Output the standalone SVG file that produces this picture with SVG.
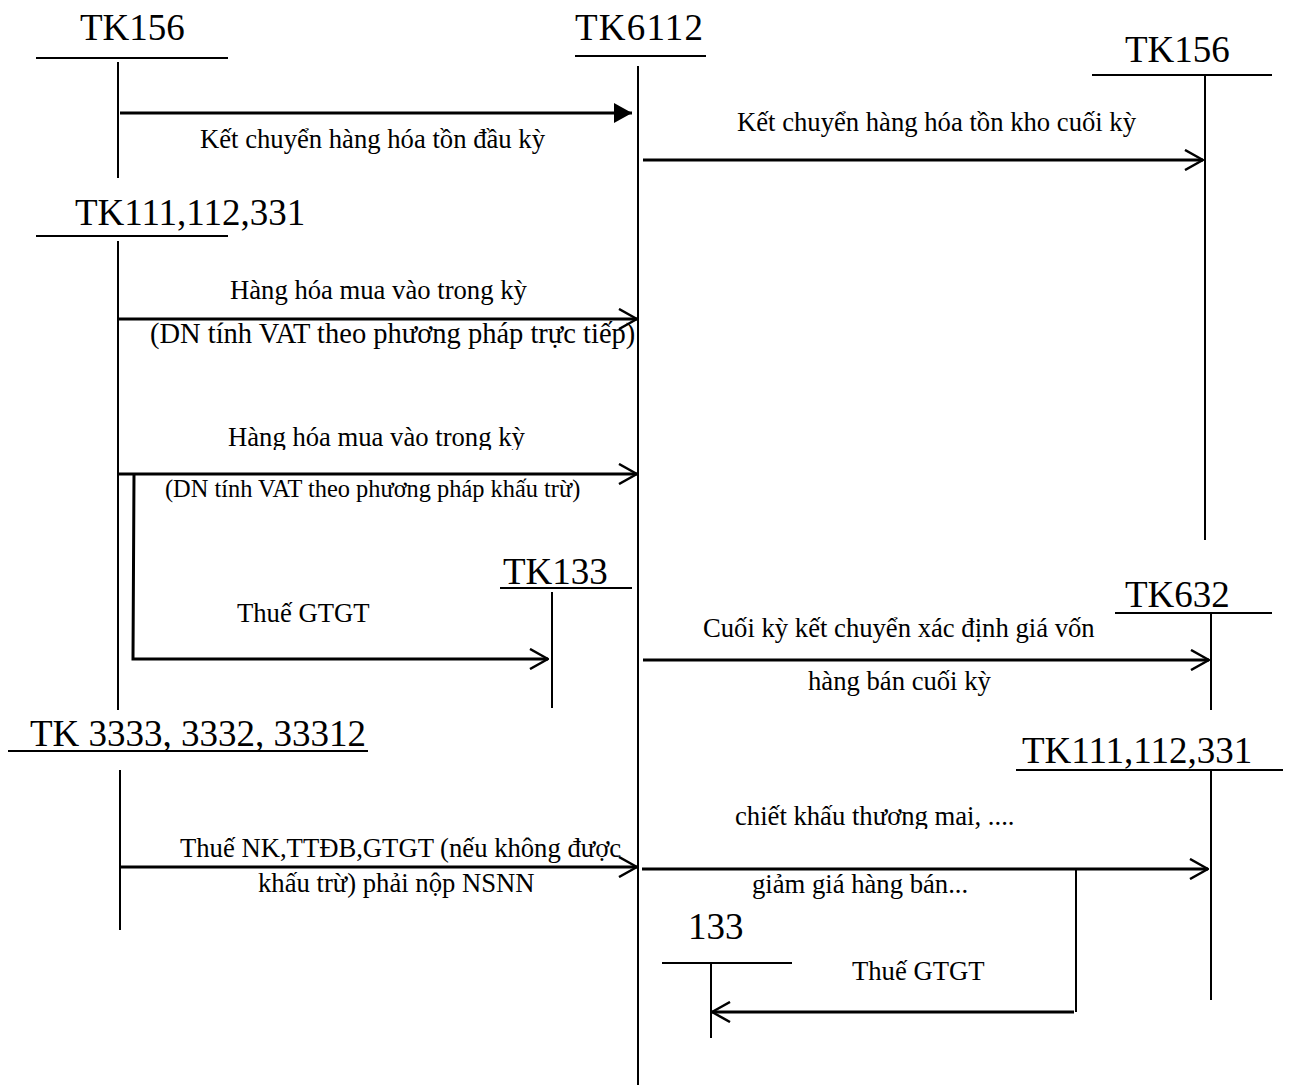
<svg xmlns="http://www.w3.org/2000/svg" width="1289" height="1090" viewBox="0 0 1289 1090">
<style>
.big{font-family:"Liberation Serif","Times New Roman",serif;font-size:37px;fill:#000}
.lbl{font-family:"Liberation Serif","Times New Roman",serif;font-size:26.67px;fill:#000}
.lbl24{font-family:"Liberation Serif","Times New Roman",serif;font-size:24.4px;fill:#000}
.lbl28{font-family:"Liberation Serif","Times New Roman",serif;font-size:28.5px;fill:#000}
.ln{stroke:#000;stroke-width:2;fill:none}
.ar{stroke:#000;stroke-width:3;fill:none}
</style>
<defs>
<marker id="open" viewBox="0 0 20 22" refX="19" refY="11" markerWidth="20" markerHeight="22" markerUnits="userSpaceOnUse" orient="auto">
<path d="M1,1 L19,11 L1,21" fill="none" stroke="#000" stroke-width="2.5"/>
</marker>
<marker id="solid" viewBox="0 0 18 20" refX="18" refY="10" markerWidth="18" markerHeight="20" markerUnits="userSpaceOnUse" orient="auto">
<path d="M0,0 L18,10 L0,20 Z" fill="#000"/>
</marker>
<clipPath id="c1"><rect x="0" y="0" width="1289" height="450"/></clipPath>
<clipPath id="c2"><rect x="0" y="0" width="1289" height="829"/></clipPath>
</defs>

<g id="tk156-left">
<text class="big" x="80" y="40">TK156</text>
<line class="ln" x1="36" y1="58" x2="228" y2="58"/>
<line class="ln" x1="118" y1="62" x2="118" y2="178"/>
</g>
<g id="tk6112">
<text class="big" x="575" y="40" textLength="128">TK6112</text>
<line class="ln" x1="575" y1="56" x2="706" y2="56"/>
<line class="ln" x1="638" y1="66" x2="638" y2="1085"/>
</g>
<g id="tk156-right">
<text class="big" x="1125" y="62">TK156</text>
<line class="ln" x1="1092" y1="75" x2="1272" y2="75"/>
<line class="ln" x1="1205" y1="75" x2="1205" y2="540"/>
</g>
<g id="tk111-left">
<text class="big" x="75" y="225">TK111,112,331</text>
<line class="ln" x1="36" y1="236" x2="228" y2="236"/>
<line class="ln" x1="118" y1="241" x2="118" y2="710"/>
</g>
<g id="tk133">
<text class="big" x="503" y="584">TK133</text>
<line class="ln" x1="500" y1="588" x2="632" y2="588"/>
<line class="ln" x1="552" y1="592" x2="552" y2="708"/>
</g>
<g id="tk632">
<text class="big" x="1125" y="607">TK632</text>
<line class="ln" x1="1115" y1="613" x2="1272" y2="613"/>
<line class="ln" x1="1211" y1="613" x2="1211" y2="710"/>
</g>
<g id="tk3333">
<text class="big" x="30" y="746">TK 3333, 3332, 33312</text>
<line class="ln" x1="8" y1="751" x2="368" y2="751"/>
<line class="ln" x1="120" y1="770" x2="120" y2="930"/>
</g>
<g id="tk111-right">
<text class="big" x="1022" y="763">TK111,112,331</text>
<line class="ln" x1="1016" y1="770" x2="1283" y2="770"/>
<line class="ln" x1="1211" y1="770" x2="1211" y2="1000"/>
</g>
<g id="tk133-small">
<text class="big" x="688" y="939">133</text>
<line class="ln" x1="662" y1="963" x2="792" y2="963"/>
<line class="ln" x1="711" y1="963" x2="711" y2="1038"/>
</g>

<g id="connectors">
<line class="ar" x1="120" y1="113" x2="632" y2="113" marker-end="url(#solid)"/>
<line class="ar" x1="643" y1="160" x2="1203" y2="160" marker-end="url(#open)"/>
<line class="ar" x1="118" y1="319" x2="637" y2="319" marker-end="url(#open)"/>
<line class="ar" x1="118" y1="474" x2="637" y2="474" marker-end="url(#open)"/>
<polyline class="ar" points="134,474 133,659 548,659" marker-end="url(#open)"/>
<line class="ar" x1="643" y1="660" x2="1209" y2="660" marker-end="url(#open)"/>
<line class="ar" x1="120" y1="867" x2="637" y2="867" marker-end="url(#open)"/>
<line class="ar" x1="642" y1="869" x2="1208" y2="869" marker-end="url(#open)"/>
<line class="ln" x1="1076" y1="869" x2="1076" y2="1012"/>
<line class="ar" x1="1074" y1="1012" x2="712" y2="1012" marker-end="url(#open)"/>
</g>

<g id="labels">
<text class="lbl" x="200" y="148">Kết chuyển hàng hóa tồn đầu kỳ</text>
<text class="lbl" x="737" y="131">Kết chuyển hàng hóa tồn kho cuối kỳ</text>
<text class="lbl" x="230" y="299">Hàng hóa mua vào trong kỳ</text>
<text class="lbl28" x="150" y="343">(DN tính VAT theo phương pháp trực tiếp)</text>
<text class="lbl" x="228" y="446" clip-path="url(#c1)">Hàng hóa mua vào trong kỳ</text>
<text class="lbl24" x="165" y="497">(DN tính VAT theo phương pháp khấu trừ)</text>
<text class="lbl" x="237" y="622">Thuế GTGT</text>
<text class="lbl" x="703" y="637">Cuối kỳ kết chuyển xác định giá vốn</text>
<text class="lbl" x="808" y="690">hàng bán cuối kỳ</text>
<text class="lbl" x="735" y="825" clip-path="url(#c2)">chiết khấu thương mai, ....</text>
<text class="lbl" x="180" y="857">Thuế NK,TTĐB,GTGT (nếu không được</text>
<text class="lbl" x="258" y="892">khấu trừ) phải nộp NSNN</text>
<text class="lbl" x="752" y="893">giảm giá hàng bán...</text>
<text class="lbl" x="852" y="980">Thuế GTGT</text>
</g>
</svg>
